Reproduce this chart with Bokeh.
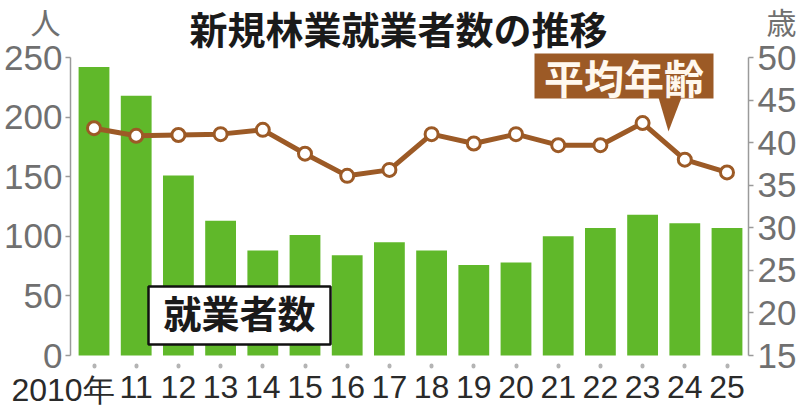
from bokeh.plotting import figure
from bokeh.models import Range1d, LinearAxis, FixedTicker, Label, ColumnDataSource
from bokeh.core.properties import value
from bokeh.embed import file_html
from bokeh.resources import INLINE

# ---- data ----
years = ["2010年", "11", "12", "13", "14", "15", "16", "17", "18", "19",
         "20", "21", "22", "23", "24", "25"]
workers = [242, 218, 151, 113, 88, 101, 84, 95, 88, 76, 78, 100, 107, 118, 111, 107]
avg_age = [41.7, 40.8, 40.9, 41.0, 41.5, 38.7, 36.1, 36.8, 41.0, 39.9, 41.0,
           39.7, 39.7, 42.3, 38.0, 36.5]
left_ticks = [0, 50, 100, 150, 200, 250]
right_ticks = [15, 20, 25, 30, 35, 40, 45, 50]

GREEN = "#60b82a"
BROWN = "#9c5a26"
GRAY_AX = "#9a9a9a"
GRAY_TX = "#707070"
DARK = "#2a2a2a"

W, H = 800, 407
# layout geometry (pixels): first category centre, spacing, zero line, px per person
CX0, DX = 93.5, 42.2
ZY, PY = 355.0, 1.192


def X(px):
    return (px - CX0) / DX


def Y(py):
    return (ZY - py) / PY


k = (50 - 15) / 250.0   # right axis: 0 -> 15 years, 250 -> 50 years
y0, y1 = Y(H), Y(0)

xs = list(range(len(years)))

p = figure(width=W, height=H, output_backend="svg", toolbar_location=None,
           x_range=Range1d(X(0), X(W)), y_range=Range1d(y0, y1),
           min_border=0)
p.title.visible = False
p.outline_line_color = None
p.grid.visible = False
p.extra_y_ranges = {"age": Range1d(15 + y0 * k, 15 + y1 * k)}

src = ColumnDataSource(dict(x=xs, w=workers, a=avg_age))
p.vbar(x="x", top="w", bottom=0, width=0.73, source=src, fill_color=GREEN,
       line_color=None)
p.line(x="x", y="a", source=src, y_range_name="age", line_color=BROWN,
       line_width=5)
p.scatter(x="x", y="a", source=src, y_range_name="age", size=13,
          fill_color="white", line_color=BROWN, line_width=3)


def style_y(ax, standoff):
    ax.axis_line_color = GRAY_AX
    ax.axis_line_width = 1.5
    ax.major_tick_line_color = GRAY_AX
    ax.major_tick_line_width = 1.5
    ax.major_tick_in = 0
    ax.major_tick_out = 5
    ax.minor_tick_line_color = None
    ax.major_label_standoff = standoff
    ax.major_label_text_font = "Liberation Sans"
    ax.major_label_text_font_size = "35px"
    ax.major_label_text_color = GRAY_TX


ly = p.yaxis[0]
ly.ticker = FixedTicker(ticks=left_ticks)
ly.bounds = (0, 250)
ly.fixed_location = X(70)
style_y(ly, 3)

ry = LinearAxis(y_range_name="age", ticker=FixedTicker(ticks=right_ticks))
ry.bounds = (15, 50)
ry.fixed_location = X(748)
style_y(ry, 4)
p.add_layout(ry, "right")

xa = p.xaxis[0]
xa.ticker = FixedTicker(ticks=xs)
xa.fixed_location = Y(365)
xa.major_label_overrides = {i: (years[i] if i > 0 else "") for i in xs}
xa.axis_line_color = None
xa.major_tick_in = 0
xa.major_tick_out = 1
xa.major_tick_line_width = 4
xa.major_tick_line_cap = "round"
xa.major_tick_line_color = "#b4b4b4"
xa.minor_tick_line_color = None
xa.major_label_standoff = 9
xa.major_label_text_font = "Liberation Sans"
xa.major_label_text_font_size = "32px"
xa.major_label_text_color = DARK

# first category label, set a little to the left as in the original
p.add_layout(Label(x=0, y=Y(371), x_offset=-31, text=years[0],
                   text_align="center", text_baseline="top",
                   text_font="Liberation Sans", text_font_size="32px",
                   text_color=DARK))

# title and units
p.add_layout(Label(x=X(398), y=Y(27), text="新規林業就業者数の推移",
                   text_align="center", text_baseline="middle",
                   text_font="Noto Sans CJK JP", text_font_style="bold",
                   text_font_size="38px", text_color="#1a1a1a"))
p.add_layout(Label(x=X(45), y=Y(20), text="人", text_align="center",
                   text_baseline="middle", text_font="Noto Sans CJK JP",
                   text_font_size="30px", text_color=GRAY_TX))
p.add_layout(Label(x=X(781), y=Y(20), text="歳", text_align="center",
                   text_baseline="middle", text_font="Noto Sans CJK JP",
                   text_font_size="30px", text_color=GRAY_TX))

# callout: 平均年齢 (average age)
p.quad(left=[X(534)], right=[X(713)], top=[Y(53)], bottom=[Y(98)],
       fill_color=BROWN, line_color=None)
p.patch(x=[X(658), X(681), X(668)], y=[Y(97), Y(97), Y(131)],
        fill_color=BROWN, line_color=None)
p.text(x=[X(623.5)], y=[Y(76)], text=["平均年齢"], text_align="center",
       text_baseline="middle", text_font=value("Noto Sans CJK JP"),
       text_font_style="bold", text_font_size="40px", text_color="#fff8ee")

# callout: 就業者数 (number of new workers)
p.quad(left=[X(148)], right=[X(330)], top=[Y(286)], bottom=[Y(344)],
       fill_color="white", line_color="#111111", line_width=2.5)
p.text(x=[X(239)], y=[Y(311)], text=["就業者数"], text_align="center",
       text_baseline="middle", text_font=value("Noto Sans CJK JP"),
       text_font_style="bold", text_font_size="38px", text_color="#1a1a1a")

open("out.html", "w").write(file_html(p, INLINE))
